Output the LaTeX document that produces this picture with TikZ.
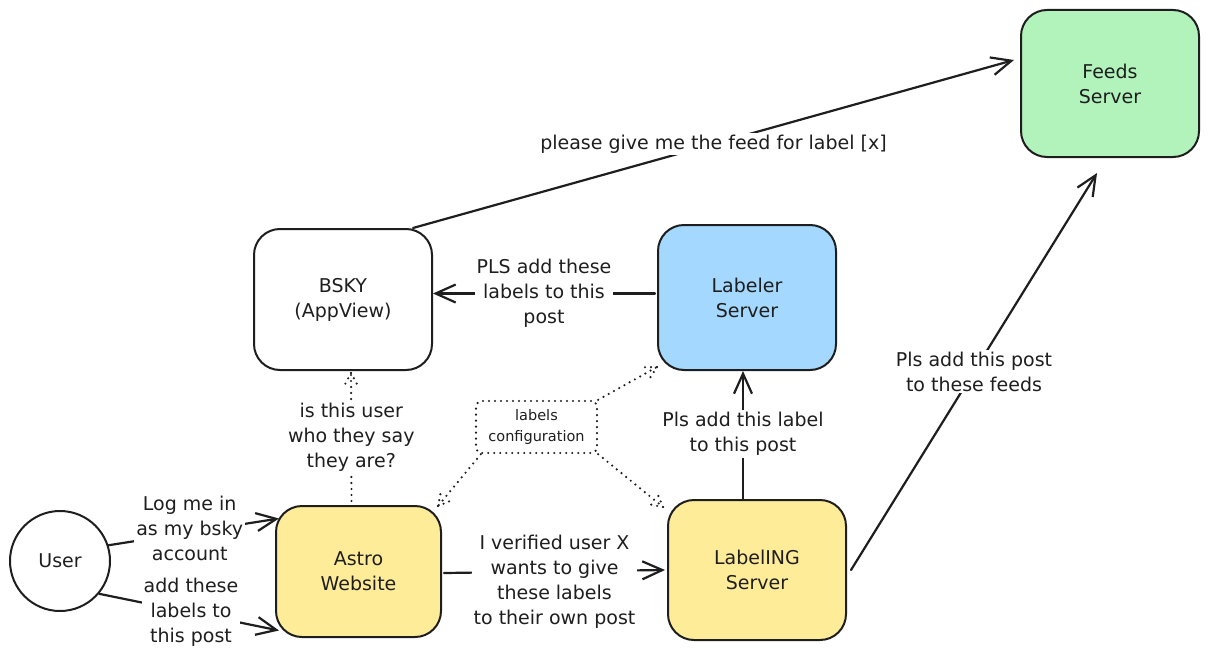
\documentclass[tikz,border=0pt]{standalone}
\usepackage{fontspec}
\setmainfont{DejaVu Sans}
\usetikzlibrary{arrows.meta,calc}
\definecolor{ink}{HTML}{1E1E1E}
\definecolor{fgreen}{HTML}{B2F2BB}
\definecolor{fblue}{HTML}{A5D8FF}
\definecolor{fyellow}{HTML}{FFEC99}
\newcommand\dottip[2]{%
  \draw[dotline] (#1) -- ($(#1)!18pt!28:(#2)$);
  \draw[dotline] (#1) -- ($(#1)!18pt!-28:(#2)$);}
\begin{document}
\begin{tikzpicture}[x=1pt,y=1pt,
  txt/.style={font=\fontsize{19}{25}\selectfont,text=ink,align=center},
  box/.style={txt,draw=ink,line width=2pt,rounded corners=26pt,inner sep=0pt},
  conn/.style={draw=ink,line width=2.2pt,line cap=round,
    -{Straight Barb[length=20pt,width=18pt,line width=2.2pt]}},
  lbl/.style={txt,fill=white,inner sep=2pt},
  dotline/.style={draw=ink,line width=2.4pt,line cap=round,dash pattern=on 0pt off 6pt},
]
\useasboundingbox (0,0) rectangle (1209,-661);
% nodes
\node[box,fill=fgreen,minimum width=178pt,minimum height=147pt] (feeds) at (1110,-83.5) {Feeds\\Server};
\node[box,fill=white,minimum width=178pt,minimum height=141pt] (bsky) at (343,-299.5) {BSKY\\(AppView)};
\node[box,fill=fblue,minimum width=178pt,minimum height=145pt] (labeler) at (747,-297.5) {Labeler\\Server};
\node[box,fill=fyellow,minimum width=165pt,minimum height=131pt] (astro) at (358.5,-571.5) {Astro\\Website};
\node[box,fill=fyellow,minimum width=178pt,minimum height=140pt] (labeling) at (757,-570) {LabelING\\Server};
\node[txt,draw=ink,line width=2pt,circle,minimum size=100pt,inner sep=0pt] (user) at (60,-561) {User};
\node[draw=ink,dotline,rounded corners=6pt,minimum width=121pt,minimum height=52pt,align=center,
  font=\fontsize{14.5}{21}\selectfont,text=ink,inner sep=0pt] (lconf) at (536.5,-427) {labels\\configuration};
% connectors
\draw[conn] ([xshift=-20pt]bsky.north east) -- node[lbl]{please give me the feed for label [x]}
  ([shift={(-6pt,23.5pt)}]feeds.west);
\draw[conn] ([shift={(-2pt,4pt)}]labeler.west) -- node[lbl]{PLS add these\\labels to this\\post}
  ([yshift=6pt]bsky.east);
\draw[conn] ([xshift=-14pt]labeling.north) -- node[lbl,yshift=1pt]{Pls add this label\\to this post}
  ([xshift=-4pt]labeler.south);
\draw[conn] ([xshift=4pt]labeling.east) -- node[lbl]{Pls add this post\\to these feeds}
  ([shift={(-13pt,-15pt)}]feeds.south);
\draw[conn] ([shift={(2pt,-1.5pt)}]astro.east) -- node[lbl,yshift=-10pt]{I verified user X\\wants to give\\these labels\\to their own post}
  ([xshift=-2pt]labeling.west);
\draw[conn] (user.18) -- node[lbl,xshift=-4pt,yshift=3pt]{Log me in\\as my bsky\\account}
  ([shift={(4pt,53pt)}]astro.west);
\draw[conn] (user.-40) -- node[lbl,xshift=2pt]{add these\\labels to\\this post}
  ([shift={(4pt,-59pt)}]astro.west);
% dotted
\coordinate (a1) at ([shift={(-7pt,4pt)}]astro.north);
\coordinate (a2) at ([shift={(8pt,-2pt)}]bsky.south);
\draw[dotline] (a1) -- node[lbl,dash pattern=on 1pt off 0pt]{is this user\\who they say\\they are?} (a2);
\dottip{a2}{a1}
\coordinate (c1) at (lconf.north east);
\coordinate (c2) at ([yshift=4pt]labeler.south west);
\draw[dotline] (c1) -- (c2);
\dottip{c2}{c1}
\coordinate (d1) at ([xshift=6pt]lconf.south west);
\coordinate (d2) at ([shift={(-4pt,-1pt)}]astro.north east);
\draw[dotline] (d1) -- (d2);
\dottip{d2}{d1}
\coordinate (e1) at (lconf.south east);
\coordinate (e2) at ([shift={(-4pt,-8pt)}]labeling.north west);
\draw[dotline] (e1) -- (e2);
\dottip{e2}{e1}
\end{tikzpicture}
\end{document}
